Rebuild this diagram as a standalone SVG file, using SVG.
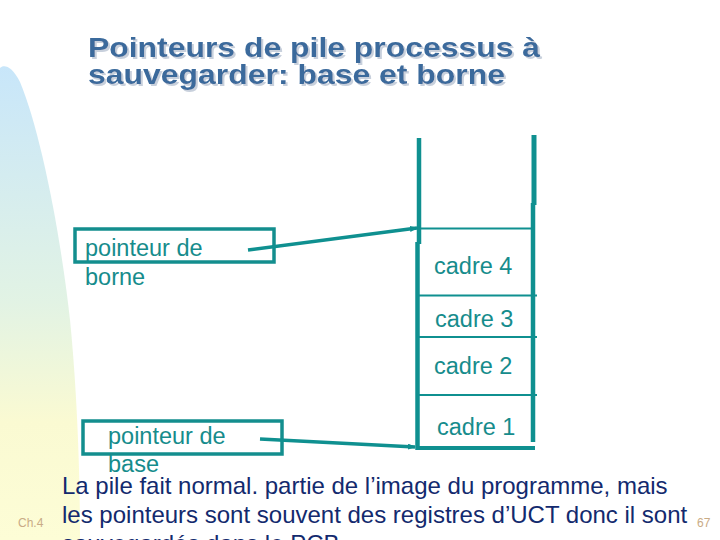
<svg xmlns="http://www.w3.org/2000/svg" width="720" height="540" viewBox="0 0 720 540">
<defs>
<linearGradient id="bg" x1="0" y1="0" x2="0" y2="1">
<stop offset="0" stop-color="#c8e6fa"/>
<stop offset="0.5" stop-color="#e2f3e4"/>
<stop offset="0.75" stop-color="#fafad2"/>
<stop offset="1" stop-color="#fdfdd6"/>
</linearGradient>
<marker id="ah" markerWidth="8" markerHeight="6" refX="7" refY="3" orient="auto" markerUnits="userSpaceOnUse">
<path d="M0,0 L8,3 L0,6 Z" fill="#0f8f8f"/>
</marker>
<filter id="sh" x="-5%" y="-20%" width="110%" height="140%">
<feOffset dx="1.5" dy="1.5" in="SourceAlpha" result="o"/>
<feFlood flood-color="#c8d0dc"/>
<feComposite in2="o" operator="in" result="s"/>
<feMerge><feMergeNode in="s"/><feMergeNode in="SourceGraphic"/></feMerge>
</filter>
</defs>
<style>
.t{font-family:"Liberation Sans",Arial,sans-serif;fill:#168c8c;font-size:23.5px}
.box{fill:none;stroke:#138e8e;stroke-width:3.5}
.ln{stroke:#0f9090;fill:none}
.b{font-family:"Liberation Sans",Arial,sans-serif;fill:#132a6e;font-size:24px}
.s{font-family:"Liberation Sans",Arial,sans-serif;fill:#c9ab85;font-size:12px}
.title{font-family:"Liberation Sans",Arial,sans-serif;fill:#3b6a9c;font-size:27px;font-weight:bold}
</style>
<rect width="720" height="540" fill="#ffffff"/>
<path d="M0,68 C4,64 12,66 20,82 C40,130 60,230 70,320 C76,380 80,460 80,540 L0,540 Z" fill="url(#bg)"/>
<g id="title" filter="url(#sh)">
<text class="title" x="88" y="57" textLength="452" lengthAdjust="spacingAndGlyphs">Pointeurs de pile processus à</text>
<text class="title" x="88" y="84" textLength="417" lengthAdjust="spacingAndGlyphs">sauvegarder: base et borne</text>
</g>
<g id="stack">
<line class="ln" x1="419" y1="138" x2="419" y2="244" stroke-width="4.5"/>
<line class="ln" x1="417.5" y1="242" x2="417.5" y2="450" stroke-width="4.5"/>
<line class="ln" x1="534" y1="135" x2="534" y2="205" stroke-width="5"/>
<line class="ln" x1="533" y1="203" x2="533" y2="442" stroke-width="4.5"/>
<line class="ln" x1="419" y1="228.5" x2="534" y2="228.5" stroke-width="2"/>
<line class="ln" x1="419" y1="295.5" x2="537" y2="295.5" stroke-width="2"/>
<line class="ln" x1="419" y1="337" x2="537" y2="337" stroke-width="2"/>
<line class="ln" x1="419" y1="395" x2="537" y2="395" stroke-width="2"/>
<line class="ln" x1="417" y1="448" x2="535" y2="448" stroke-width="4"/>
<text class="t" x="434" y="274">cadre 4</text>
<text class="t" x="435" y="327">cadre 3</text>
<text class="t" x="434" y="374">cadre 2</text>
<text class="t" x="437" y="435">cadre 1</text>
</g>
<g id="borne">
<rect class="box" x="75" y="229" width="199" height="33"/>
<text class="t" x="85" y="256">pointeur de</text>
<text class="t" x="85" y="285">borne</text>
</g>
<g id="base">
<rect class="box" x="83" y="421" width="199" height="33"/>
<text class="t" x="108" y="444">pointeur de</text>
<text class="t" x="108" y="472">base</text>
</g>
<g id="connectors">
<line class="ln" x1="248" y1="250" x2="417" y2="228" stroke-width="3.5" marker-end="url(#ah)"/>
<line class="ln" x1="260" y1="439" x2="415" y2="447" stroke-width="3.5" marker-end="url(#ah)"/>
</g>
<g id="caption">
<text class="b" x="62" y="494">La pile fait normal. partie de l’image du programme, mais</text>
<text class="b" x="62" y="523">les pointeurs sont souvent des registres d’UCT donc il sont</text>
<text class="b" x="62" y="552">sauvegardés dans le PCB</text>
</g>
<text class="s" x="18" y="527">Ch.4</text>
<text class="s" x="697" y="527">67</text>
</svg>
